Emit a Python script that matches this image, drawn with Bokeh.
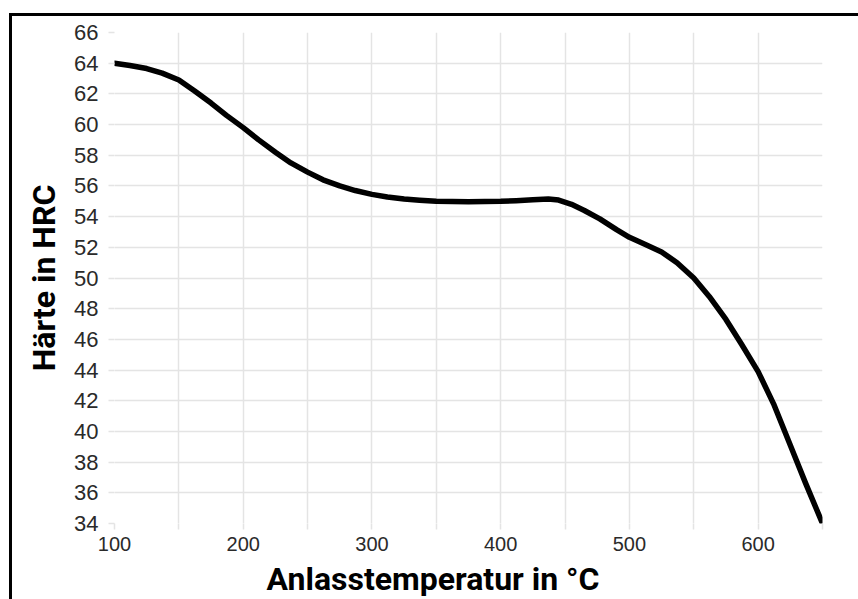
from bokeh.plotting import figure
from bokeh.models import FixedTicker, Range1d, Title
from bokeh.embed import file_html
from bokeh.resources import INLINE

# Data (tempering curve)
temp_c = [100, 112, 125, 137, 150, 162, 175, 187, 200, 212, 225, 237, 250, 262,
          275, 287, 300, 312, 325, 337, 350, 375, 400, 412, 425, 437, 445, 455,
          465, 477, 490, 500, 512, 525, 537, 550, 562, 575, 587, 600, 612, 625,
          637, 650]
hardness_hrc = [64.0, 63.85, 63.65, 63.35, 62.9, 62.2, 61.4, 60.6, 59.8, 59.0,
                58.2, 57.5, 56.9, 56.4, 56.0, 55.7, 55.45, 55.28, 55.15, 55.07,
                55.0, 54.97, 55.0, 55.04, 55.1, 55.15, 55.08, 54.8, 54.4, 53.85,
                53.15, 52.65, 52.2, 51.7, 51.0, 50.0, 48.8, 47.3, 45.7, 43.9,
                41.8, 39.1, 36.6, 34.0]

x_ticks = list(range(100, 651, 50))
x_tick_labels = {t: (str(t) if t % 100 == 0 else "") for t in x_ticks}
y_ticks = list(range(34, 67, 2))

x_title = "Anlasstemperatur in °C"
y_title = "Härte in HRC"

GRID = "#e4e4e4"
TICK_TXT = "#2a2a2a"

# The picture is cropped on the right and at the bottom in the reference, so the
# figure is pinned to the window and runs past its right and bottom edges.
p = figure(width=872, height=612, output_backend="svg", toolbar_location=None,
           x_range=Range1d(100, 650), y_range=Range1d(34, 66),
           min_border_left=114, min_border_right=50, min_border_top=32,
           min_border_bottom=89)
# black picture frame: only the left and top edges are visible in the reference
p.styles = {
    "position": "fixed", "top": "0px", "left": "0px",
    "background-color": "white",
    "background-image": "linear-gradient(#000, #000), linear-gradient(#000, #000)",
    "background-size": "3px 100%, 100% 3px",
    "background-position": "9px 13px, 9px 13px",
    "background-repeat": "no-repeat",
}
p.outline_line_color = None
p.background_fill_color = "white"
p.border_fill_color = None

p.line(temp_c, hardness_hrc, line_color="black", line_width=5.5,
       line_cap="round", line_join="round")

for ax in (p.xaxis[0], p.yaxis[0]):
    ax.axis_line_color = None
    ax.major_tick_line_color = GRID
    ax.major_tick_line_width = 1.5
    ax.major_tick_out = 6
    ax.major_tick_in = 0
    ax.minor_tick_line_color = None
    ax.major_label_text_font = "Liberation Sans"
    ax.major_label_text_color = TICK_TXT

p.xaxis.ticker = FixedTicker(ticks=x_ticks)
p.xaxis.major_label_overrides = x_tick_labels
p.xaxis.major_label_text_font_size = "20px"
p.xaxis.major_label_standoff = 7

p.yaxis.ticker = FixedTicker(ticks=y_ticks)
p.yaxis.major_label_text_font_size = "22px"
p.yaxis.major_label_standoff = 10
p.yaxis.axis_label = y_title
p.yaxis.axis_label_text_font = "Roboto"
p.yaxis.axis_label_text_font_style = "bold"
p.yaxis.axis_label_text_font_size = "32px"
p.yaxis.axis_label_text_color = "black"
p.yaxis.axis_label_standoff = 8

p.xgrid.ticker = FixedTicker(ticks=x_ticks)
p.ygrid.ticker = FixedTicker(ticks=y_ticks)
for g in (p.xgrid[0], p.ygrid[0]):
    g.grid_line_color = GRID
    g.grid_line_width = 1.5

# x axis title, placed below the axis and shifted as in the reference
p.add_layout(Title(text=x_title, align="left", offset=152, standoff=9,
                   text_font="Roboto", text_font_style="bold",
                   text_font_size="32px", text_color="black"), "below")

open("out.html", "w").write(file_html(p, INLINE))
